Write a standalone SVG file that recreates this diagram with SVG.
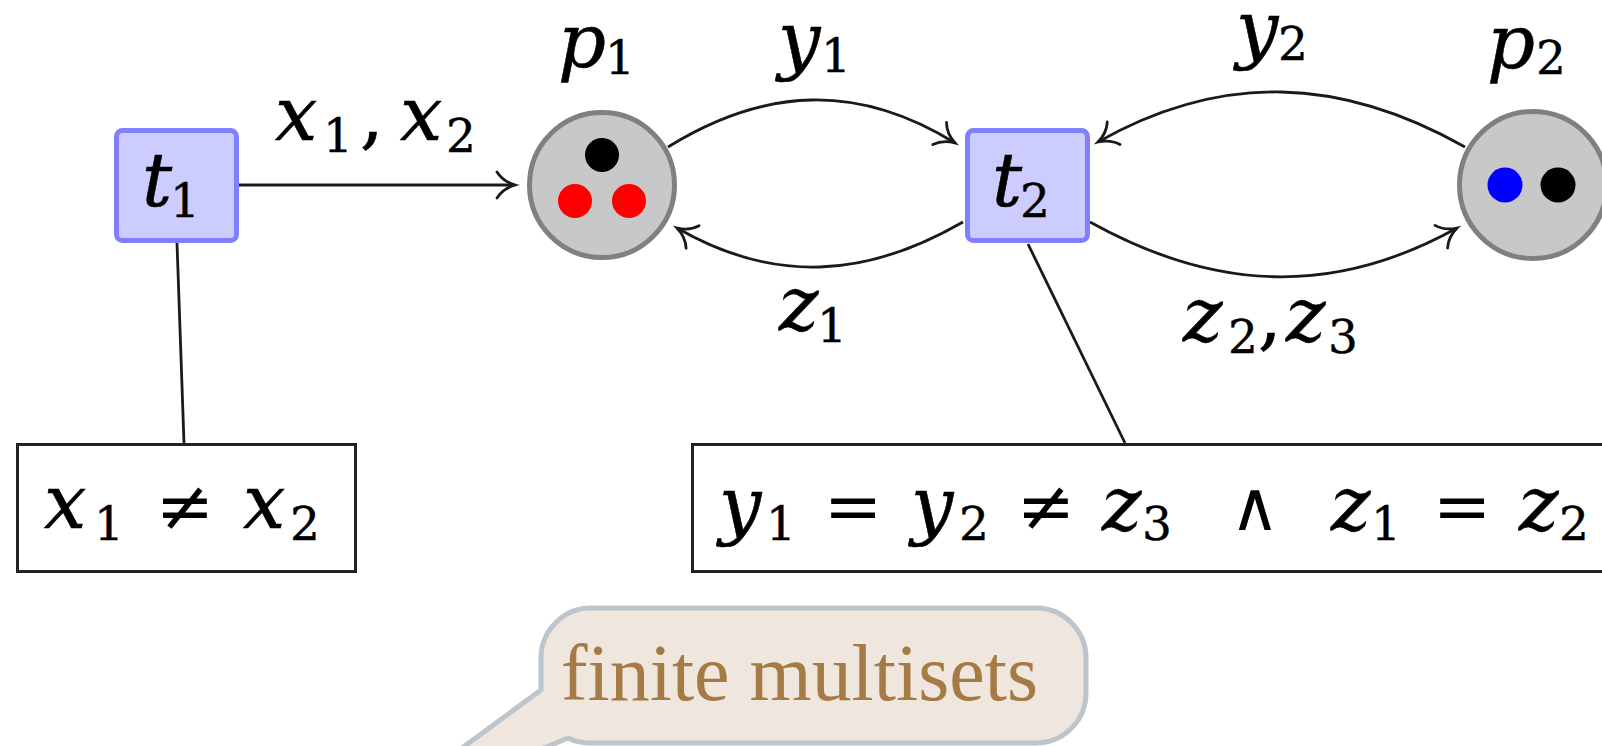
<svg xmlns="http://www.w3.org/2000/svg" width="1602" height="746" viewBox="0 0 1602 746">
<style>
.m{font-family:'DejaVu Serif','Liberation Serif',serif}
.mi{font-style:italic;font-size:75px;fill:#000;stroke:#000;stroke-width:0.6}
.sub{font-size:47px;fill:#000;stroke:#000;stroke-width:0.4}
.rel{font-size:70px;fill:#000;text-anchor:middle}
.wedge{font-size:68px;fill:#000;text-anchor:middle}
.pun{font-size:75px;fill:#000;stroke:#000;stroke-width:0.6}
.trans{fill:#ccccff;stroke:#8080ff;stroke-width:5}
.place{fill:#c8c8c8;stroke:#808080;stroke-width:5}
.guard{fill:#fff;stroke:#222;stroke-width:3}
.edge{fill:none;stroke:#1a1a1a;stroke-width:2.8}
.arc{fill:none;stroke:#1a1a1a;stroke-width:2.8;marker-end:url(#to)}
</style>
<defs>
<marker id="to" markerUnits="userSpaceOnUse" markerWidth="40" markerHeight="40" viewBox="-25 -20 30 40" refX="0" refY="0" orient="auto">
<path d="M-18,-13 C-13,-5 -4,-1.2 0,0 C-4,1.2 -13,5 -18,13" fill="none" stroke="#1a1a1a" stroke-width="2.8" stroke-linecap="round"/>
</marker>
</defs>
<rect width="1602" height="746" fill="#fff"/>

<g id="connectors">
<line class="edge" x1="177" y1="243" x2="184" y2="443"/>
<line class="edge" x1="1028" y1="244" x2="1125" y2="443"/>
<path class="arc" d="M239,185 L515,185"/>
<path class="arc" d="M668,147 C765,87 858,83 955,143"/>
<path class="arc" d="M963,222 C866,278 774,284 677,228"/>
<path class="arc" d="M1465,147 C1341,77 1222,72 1098,142"/>
<path class="arc" d="M1090,222 C1214,291 1333,297 1457,228"/>
<g id="edge-labels" class="m">
<text class="mi" x="275" y="140">x</text><text class="sub" x="323" y="152">1</text><text class="pun" x="360" y="140">,</text><text class="mi" x="400" y="140">x</text><text class="sub" x="446" y="152">2</text>
<text class="mi" x="778" y="65">y</text><text class="sub" x="821" y="72">1</text>
<text class="mi" x="1236" y="54">y</text><text class="sub" x="1278" y="60">2</text>
<text class="mi" x="779" y="330">z</text><text class="sub" x="817" y="342">1</text>
<text class="mi" x="1183" y="341">z</text><text class="sub" x="1228" y="353">2</text><text class="pun" x="1258" y="341">,</text><text class="mi" x="1286" y="341">z</text><text class="sub" x="1328" y="353">3</text>
</g>
</g>

<g id="t1" class="m">
<rect class="trans" x="116.5" y="130.5" width="120" height="110" rx="6"/>
<text class="mi" x="142" y="206">t</text><text class="sub" x="170" y="217">1</text>
</g>
<g id="t2" class="m">
<rect class="trans" x="967.5" y="130.5" width="120" height="110" rx="6"/>
<text class="mi" x="992" y="206">t</text><text class="sub" x="1020" y="217">2</text>
</g>
<g id="p1" class="m">
<circle class="place" cx="602" cy="185" r="72.5"/>
<circle cx="602" cy="155" r="17" fill="#000"/>
<circle cx="575" cy="201" r="17" fill="#ff0000"/>
<circle cx="629" cy="201" r="17" fill="#ff0000"/>
<text class="mi" x="558" y="67">p</text><text class="sub" x="605" y="74">1</text>
</g>
<g id="p2" class="m">
<circle class="place" cx="1533" cy="185" r="73.5"/>
<circle cx="1505" cy="185" r="17.5" fill="#0000ff"/>
<circle cx="1558" cy="185" r="17.5" fill="#000"/>
<text class="mi" x="1487" y="68">p</text><text class="sub" x="1536" y="74">2</text>
</g>

<g id="guard1" class="m">
<rect class="guard" x="17.5" y="444.5" width="338" height="127"/>
<text class="mi" x="44" y="528">x</text><text class="sub" x="94" y="540">1</text>
<text class="rel" x="185" y="530">≠</text>
<text class="mi" x="243" y="528">x</text><text class="sub" x="290" y="540">2</text>
</g>
<g id="guard2" class="m">
<rect class="guard" x="692.5" y="444.5" width="1000" height="127"/>
<text class="mi" x="719" y="530">y</text><text class="sub" x="766" y="540">1</text>
<text class="rel" x="853" y="530">=</text>
<text class="mi" x="911" y="530">y</text><text class="sub" x="959" y="540">2</text>
<text class="rel" x="1046" y="530">≠</text>
<text class="mi" x="1102" y="530">z</text><text class="sub" x="1142" y="540">3</text>
<text class="wedge" x="1255" y="530">∧</text>
<text class="mi" x="1331" y="530">z</text><text class="sub" x="1371" y="540">1</text>
<text class="rel" x="1462" y="530">=</text>
<text class="mi" x="1519" y="530">z</text><text class="sub" x="1559" y="540">2</text>
</g>

<g id="callout">
<path d="M541,690 L541,658 A50,50 0 0 1 591,608 L1036,608 A50,50 0 0 1 1086,658 L1086,693 A50,50 0 0 1 1036,743 L592,743 Q578,743 568,738 L353,828 Z" fill="#efe6dd" stroke="#bcc4cc" stroke-width="5" stroke-linejoin="round"/>
<text x="561" y="700" textLength="477" lengthAdjust="spacingAndGlyphs" style="font-family:'Liberation Serif',serif;font-size:80px;fill:#a67a45">finite multisets</text>
</g>
</svg>
